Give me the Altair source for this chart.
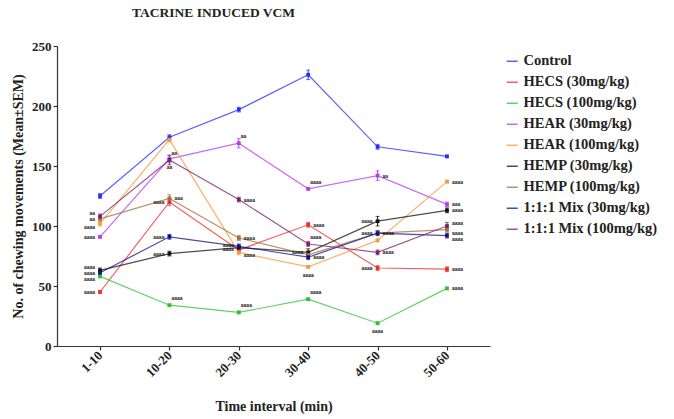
import altair as alt
import pandas as pd

intervals = ["1-10", "10-20", "20-30", "30-40", "40-50", "50-60"]

series_names = [
    "Control", "HECS (30mg/kg)", "HECS (100mg/kg)", "HEAR (30mg/kg)",
    "HEAR (100mg/kg)", "HEMP (30mg/kg)", "HEMP (100mg/kg)",
    "1:1:1 Mix (30mg/kg)", "1:1:1 Mix (100mg/kg)",
]
control = [125, 174, 197, 226, 166, 158]
hecs30 = [45, 120, 80, 101, 65, 64]
hecs100 = [58, 34, 28, 39, 19, 48]
hear30 = [91, 156, 169, 131, 142, 118]
hear100 = [102, 172, 78, 66, 88, 137]
hemp30 = [63, 77, 82, 78, 104, 113]
hemp100 = [106, 123, 90, 76, 94, 97]
mix30 = [61, 91, 83, 74, 94, 92]
mix100 = [108, 155, 122, 85, 78, 100]

sem_control = [2, 2, 2, 4, 2, 1]
sem_hecs30 = [1, 3, 2, 2, 2, 2]
sem_hecs100 = [1, 1, 1, 1, 1, 1]
sem_hear30 = [1, 3, 4, 1, 4, 2]
sem_hear100 = [2, 2, 2, 1, 1, 1]
sem_hemp30 = [2, 2, 2, 3, 4, 2]
sem_hemp100 = [2, 3, 2, 2, 2, 2]
sem_mix30 = [2, 2, 2, 2, 2, 2]
sem_mix100 = [2, 4, 2, 2, 2, 3]

colors = ["#2b2bf5", "#f02a2a", "#2fc22f", "#b43cf0", "#f59a3a",
          "#111111", "#a0703a", "#10108a", "#7a1f6a"]

values = [control, hecs30, hecs100, hear30, hear100, hemp30, hemp100, mix30, mix100]
sems = [sem_control, sem_hecs30, sem_hecs100, sem_hear30, sem_hear100,
        sem_hemp30, sem_hemp100, sem_mix30, sem_mix100]

rows = []
for name, vals, ss in zip(series_names, values, sems):
    for i, (v, s) in enumerate(zip(vals, ss)):
        rows.append({"Group": name, "Interval": intervals[i], "Value": v,
                     "Lo": v - s, "Hi": v + s})
df = pd.DataFrame(rows)

# significance annotations: (series index, interval index, text)
ann_left = [(6, 0, "aa"), (3, 0, "aaaa"), (7, 0, "aaaa"), (1, 0, "aaaa"),
            (1, 1, "aaaa"), (7, 1, "aaaa"), (5, 1, "aaaa"),
            (5, 3, "aaaa"),
            (5, 4, "aaaa"), (7, 4, "aaaa"), (1, 4, "aaaa")]
ann_left_up = [(8, 0, "aa"), (5, 0, "aaaa"), (5, 2, "aaaa")]
ann_left_down = [(2, 0, "aaaa"), (4, 0, "aaaa"), (7, 2, "aaaa")]
ann_right = [(6, 1, "aaa"), (8, 2, "aaaa"), (6, 2, "aaaa"),
             (1, 3, "aaaa"), (7, 3, "aaaa"),
             (3, 4, "aa"), (6, 4, "aaaa"), (8, 4, "aaaa"),
             (4, 5, "aaaa"), (3, 5, "aaa"), (5, 5, "aaaa"),
             (1, 5, "aaaa"), (2, 5, "aaaa")]
ann_right_up = [(8, 5, "aaaa")]
ann_right_down = [(6, 5, "aaaa"), (4, 2, "aaaa"), (7, 5, "aaaa")]
ann_above = [(8, 1, "aa"), (3, 2, "aa"), (2, 1, "aaaa"), (2, 2, "aaaa"),
             (2, 3, "aaaa"), (8, 3, "aaaa"), (3, 3, "aaaa")]
ann_below = [(3, 1, "aa"), (4, 3, "aaaa"), (2, 4, "aaaa")]


def ann_df(lst):
    return pd.DataFrame([{"Interval": intervals[j], "Value": values[s][j], "Text": t}
                         for s, j, t in lst])


SERIF = "Liberation Serif"
INK = "#222222"
Y_TITLE = "No. of chewing movements (Mean±SEM)"
axis_style = dict(labelFont=SERIF, labelFontSize=13, labelFontWeight="bold",
                  labelColor=INK, titleFont=SERIF, titleFontSize=14,
                  titleFontWeight="bold", titleColor=INK, domainColor="#333333",
                  tickColor="#333333", domainWidth=1.2, tickWidth=1.2)
x_enc = alt.X("Interval:O", sort=intervals, title="Time interval (min)",
              scale=alt.Scale(type="point", padding=0.62),
              axis=alt.Axis(labelAngle=-45,
                            labelAlign="right", labelBaseline="middle",
                            labelPadding=3, tickSize=4, titlePadding=20,
                            **axis_style))
y_enc = alt.Y("Value:Q", title=Y_TITLE, scale=alt.Scale(domain=[0, 250], nice=False),
              axis=alt.Axis(values=[0, 50, 100, 150, 200, 250], tickSize=4,
                            grid=False, titlePadding=6, **axis_style))
color_enc = alt.Color("Group:N", sort=series_names,
                      scale=alt.Scale(domain=series_names, range=colors),
                      legend=alt.Legend(title=None, orient="none", legendX=448,
                                        legendY=8, symbolType="stroke",
                                        symbolSize=120, symbolStrokeWidth=1.5,
                                        rowPadding=6, labelFontSize=14.5,
                                        labelFont=SERIF, labelColor=INK,
                                        labelFontWeight="bold", labelLimit=220))

nolegend_color = alt.Color("Group:N", sort=series_names,
                           scale=alt.Scale(domain=series_names, range=colors),
                           legend=None)
x_same = alt.X("Interval:O", sort=intervals, title="Time interval (min)")

base = alt.Chart(df)
lines = base.mark_line(strokeWidth=1.2, opacity=0.75).encode(
    x=x_enc, y=y_enc, color=color_enc)
pts = base.mark_square(size=14, opacity=1).encode(
    x=x_same, y=alt.Y("Value:Q", title=Y_TITLE), color=nolegend_color)
errs = base.mark_errorbar(ticks=alt.TickConfig(size=4), thickness=1).encode(
    x=x_same, y=alt.Y("Lo:Q", title=Y_TITLE), y2="Hi:Q",
    color=nolegend_color)

txt_style = dict(fontSize=5, font="Liberation Sans", fontWeight="bold", color=INK)


def txt(lst, **kw):
    return alt.Chart(ann_df(lst)).mark_text(**txt_style, **kw).encode(
        x=x_same, y=alt.Y("Value:Q", title=Y_TITLE), text="Text:N")


layers = [
    lines, errs, pts,
    txt(ann_left, align="right", dx=-5),
    txt(ann_left_up, align="right", dx=-5, dy=-3),
    txt(ann_left_down, align="right", dx=-5, dy=3),
    txt(ann_right, align="left", dx=5),
    txt(ann_right_up, align="left", dx=5, dy=-3),
    txt(ann_right_down, align="left", dx=5, dy=3),
    txt(ann_above, align="left", dx=2, dy=-7),
    txt(ann_below, align="center", dy=8),
]

chart = alt.layer(*layers).properties(
    width=433, height=300,
    title=alt.TitleParams("TACRINE INDUCED VCM", font=SERIF,
                          fontSize=13.5, fontWeight="bold", anchor="middle",
                          dx=-60, offset=21, color=INK),
    autosize=alt.AutoSizeParams(type="none"),
    padding={"left": 57, "top": 46, "right": 184, "bottom": 73},
).configure(background="white", font=SERIF).configure_view(strokeWidth=0)

chart.save("out.html", embed_options={"renderer": "svg", "actions": False})
